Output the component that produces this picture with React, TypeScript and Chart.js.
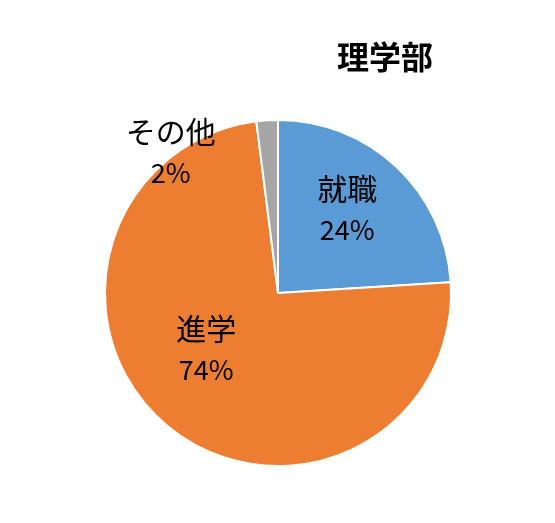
import React, { useRef, useEffect } from "react";
import Chart from "chart.js/auto";

const title = "理学部";
const categories = ["就職", "進学", "その他"];
const shares = [24, 74, 2];
const colors = ["#5B9BD5", "#ED7D31", "#A5A5A5"];

// label anchor, relative to pie centre in radius units (Excel-style manual placement)
const labelOffsets = [
    { x: 0.4, y: -0.48 },
    { x: -0.415, y: 0.33 },
    { x: -0.62, y: -0.81 },
];

const nameFont = '30px "Noto Sans CJK JP", sans-serif';
const pctFont = '27px "Noto Sans CJK JP", sans-serif';

const labelPlugin = {
    id: "pieLabels",
    afterDraw(chart: any) {
        const { ctx } = chart;
        const meta = chart.getDatasetMeta(0);
        const arc0 = meta.data[0];
        if (!arc0) return;
        const cx = arc0.x;
        const cy = arc0.y;
        const r = arc0.outerRadius;

        ctx.save();
        ctx.fillStyle = "#000";
        ctx.textAlign = "center";
        ctx.textBaseline = "middle";

        ctx.font = 'bold 32px "Noto Sans CJK JP", sans-serif';
        ctx.fillText(title, 385, 57);

        categories.forEach((name, i) => {
            const off = labelOffsets[i];
            const x = cx + off.x * r;
            const y = cy + off.y * r;
            ctx.font = nameFont;
            ctx.fillText(name, x, y - 21);
            ctx.font = pctFont;
            ctx.fillText(shares[i] + "%", x, y + 20);
        });
        ctx.restore();
    },
};

const App = () => {
    const chartRef = useRef<HTMLCanvasElement>(null);

    useEffect(() => {
        document.body.style.margin = "0";
        const ctx = chartRef.current?.getContext("2d");
        if (!ctx) return;

        const myChart = new Chart(ctx, {
            type: "pie",
            data: {
                labels: categories,
                datasets: [
                    {
                        data: shares,
                        backgroundColor: colors,
                        borderColor: "#fff",
                        borderWidth: 2,
                    },
                ],
            },
            options: {
                responsive: true,
                maintainAspectRatio: false,
                animation: false,
                layout: {
                    padding: { left: 104, right: 103, top: 119, bottom: 56 },
                },
                plugins: {
                    legend: { display: false },
                    tooltip: { enabled: false },
                    title: { display: false },
                },
            },
            plugins: [labelPlugin],
        });

        return () => {
            myChart.destroy();
        };
    }, []);

    return (
        <div style={{ position: "relative", width: 555, height: 523, background: "#fff" }}>
            <canvas ref={chartRef}></canvas>
        </div>
    );
};

export default App;
